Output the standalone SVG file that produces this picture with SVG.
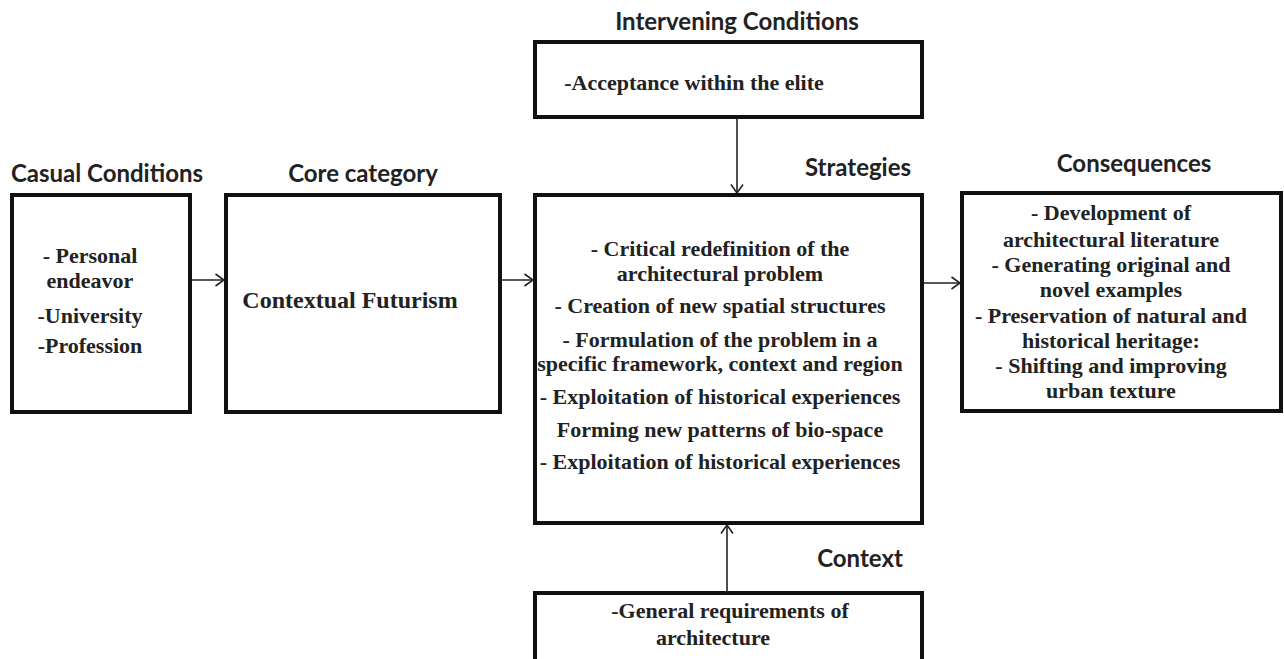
<svg xmlns="http://www.w3.org/2000/svg" width="1284" height="659" viewBox="0 0 1284 659">
<defs>
<style>
.box{fill:#fff;stroke:#111;stroke-width:4}
.hd{font-family:Lato,"Open Sans","Liberation Sans",sans-serif;font-weight:700;font-size:24px;fill:#222;text-anchor:middle}
.tx{font-family:"Liberation Serif","Times New Roman",serif;font-weight:700;font-size:22px;fill:#222;text-anchor:middle}
.cn{stroke:#222;stroke-width:1.6;fill:none}
</style>
<marker id="ah" viewBox="0 0 10 14" refX="9.5" refY="7" markerWidth="10" markerHeight="14" markerUnits="userSpaceOnUse" orient="auto">
<path d="M1,1 L9.5,7 L1,13" fill="none" stroke="#222" stroke-width="1.6"/>
</marker>
</defs>
<rect width="1284" height="659" fill="#fff"/>
<g id="connectors">
<line class="cn" x1="190" y1="280" x2="224" y2="280" marker-end="url(#ah)"/>
<line class="cn" x1="500" y1="280" x2="533" y2="280" marker-end="url(#ah)"/>
<line class="cn" x1="922" y1="283" x2="960" y2="283" marker-end="url(#ah)"/>
<line class="cn" x1="737" y1="117" x2="737" y2="193" marker-end="url(#ah)"/>
<line class="cn" x1="727" y1="592" x2="727" y2="525" marker-end="url(#ah)"/>
</g>
<g id="casual">
<text class="hd" x="107" y="182">Casual Conditions</text>
<rect class="box" x="12" y="195" width="178" height="217"/>
<text class="tx" x="90" y="263">- Personal</text>
<text class="tx" x="90" y="288">endeavor</text>
<text class="tx" x="90" y="323">-University</text>
<text class="tx" x="90" y="353">-Profession</text>
</g>
<g id="core">
<text class="hd" x="363" y="182">Core category</text>
<rect class="box" x="226" y="195" width="274" height="217"/>
<text class="tx" x="350" y="308" style="font-size:24px">Contextual Futurism</text>
</g>
<g id="intervening">
<text class="hd" x="737" y="30">Intervening Conditions</text>
<rect class="box" x="535" y="42" width="387" height="75"/>
<text class="tx" x="694" y="90">-Acceptance within the elite</text>
</g>
<g id="strategies">
<text class="hd" x="858" y="176">Strategies</text>
<rect class="box" x="535" y="195" width="387" height="328"/>
<text class="tx" x="720" y="256">- Critical redefinition of the</text>
<text class="tx" x="720" y="281">architectural problem</text>
<text class="tx" x="720" y="313">- Creation of new spatial structures</text>
<text class="tx" x="720" y="347">- Formulation of the problem in a</text>
<text class="tx" x="720" y="371">specific framework, context and region</text>
<text class="tx" x="720" y="404">- Exploitation of historical experiences</text>
<text class="tx" x="720" y="437">Forming new patterns of bio-space</text>
<text class="tx" x="720" y="469">- Exploitation of historical experiences</text>
</g>
<g id="consequences">
<text class="hd" x="1134" y="172">Consequences</text>
<rect class="box" x="962" y="193" width="319" height="218"/>
<text class="tx" x="1111" y="220">- Development of</text>
<text class="tx" x="1111" y="247">architectural literature</text>
<text class="tx" x="1111" y="272">- Generating original and</text>
<text class="tx" x="1111" y="297">novel examples</text>
<text class="tx" x="1111" y="323">- Preservation of natural and</text>
<text class="tx" x="1111" y="348">historical heritage:</text>
<text class="tx" x="1111" y="373">- Shifting and improving</text>
<text class="tx" x="1111" y="398">urban texture</text>
</g>
<g id="context">
<text class="hd" x="860" y="567">Context</text>
<rect class="box" x="535" y="593" width="387" height="70"/>
<text class="tx" x="730" y="618">-General requirements of</text>
<text class="tx" x="713" y="645">architecture</text>
</g>
</svg>
